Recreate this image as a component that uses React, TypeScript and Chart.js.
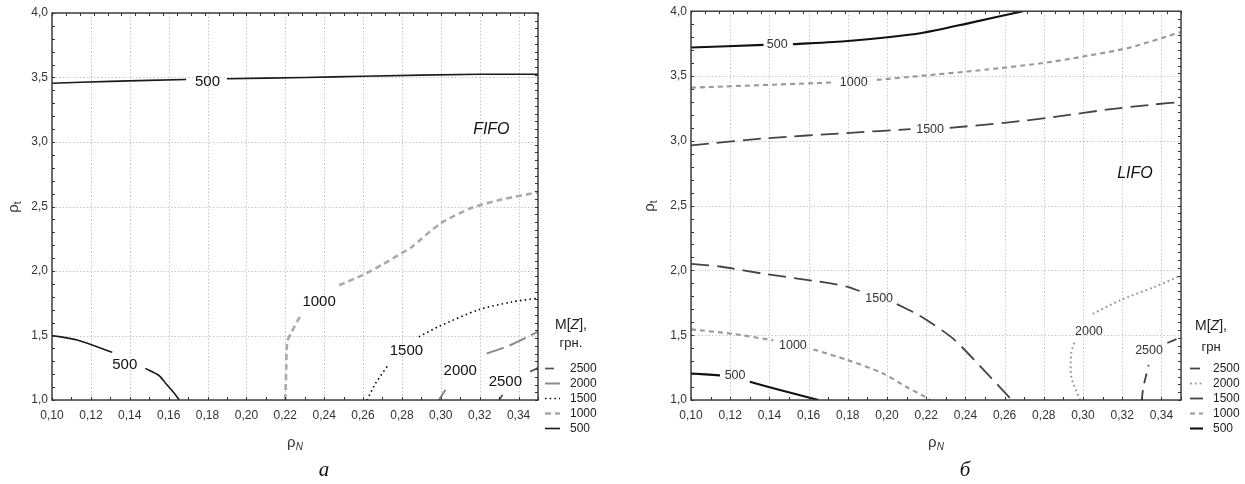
import React, { useEffect, useRef } from "react";
import { Chart, registerables } from "chart.js";
Chart.register(...registerables);

// ---------- axes ----------
const xTicks = [0.10, 0.12, 0.14, 0.16, 0.18, 0.20, 0.22, 0.24, 0.26, 0.28, 0.30, 0.32, 0.34];
const yTicks = [1.0, 1.5, 2.0, 2.5, 3.0, 3.5, 4.0];
const xMin = 0.10, xMax = 0.35, yMin = 1.0, yMax = 4.0;
const legendLevels = [2500, 2000, 1500, 1000, 500];

// ---------- FIFO (а) ----------
const fifo500aX = [0.10, 0.13, 0.169, null, 0.19, 0.23, 0.26, 0.32, 0.35];
const fifo500aY = [3.455, 3.47, 3.485, null, 3.49, 3.50, 3.51, 3.525, 3.525];
const fifo500bX = [0.10, 0.113, 0.131, null, 0.148, 0.155, 0.159, 0.163, 0.1655];
const fifo500bY = [1.50, 1.465, 1.37, null, 1.245, 1.19, 1.12, 1.05, 1.0];
const fifo1000X = [0.220, 0.2205, 0.221, 0.223, 0.228, null, 0.2477, 0.26, 0.27, 0.28, 0.2845, 0.30, 0.316, 0.33, 0.35];
const fifo1000Y = [1.0, 1.25, 1.45, 1.52, 1.66, null, 1.89, 1.97, 2.05, 2.14, 2.18, 2.37, 2.49, 2.55, 2.61];
const fifo1500X = [0.262, 0.2665, 0.2733, null, 0.2887, 0.299, 0.3195, 0.3365, 0.35];
const fifo1500Y = [1.0, 1.13, 1.28, null, 1.49, 1.57, 1.70, 1.76, 1.79];
const fifo2000X = [0.299, 0.3024, null, 0.3236, 0.3365, 0.35];
const fifo2000Y = [1.0, 1.08, null, 1.36, 1.43, 1.53];
const fifo2500X = [0.33, 0.3318, null, 0.346, 0.35];
const fifo2500Y = [1.0, 1.04, null, 1.22, 1.25];
const fifoLabelLevels = [500, 500, 1000, 1500, 2000, 2500];
const fifoLabelX = [0.18, 0.1374, 0.2374, 0.2823, 0.310, 0.3332];
const fifoLabelY = [3.465, 1.27, 1.76, 1.38, 1.225, 1.143];

// ---------- LIFO (б) ----------
const lifo500aX = [0.10, 0.137, null, 0.152, 0.18, 0.217, 0.2424, 0.2694];
const lifo500aY = [3.72, 3.74, null, 3.745, 3.77, 3.83, 3.91, 4.0];
const lifo1000aX = [0.10, 0.1725, null, 0.1948, 0.2168, 0.251, 0.2796, 0.30, 0.324, 0.35];
const lifo1000aY = [3.41, 3.45, null, 3.47, 3.50, 3.55, 3.60, 3.65, 3.72, 3.84];
const lifo1500aX = [0.10, 0.1387, 0.1796, 0.212, null, 0.232, 0.261, 0.2883, 0.312, 0.336, 0.35];
const lifo1500aY = [2.965, 3.02, 3.06, 3.09, null, 3.10, 3.14, 3.19, 3.24, 3.28, 3.30];
const lifo1500bX = [0.10, 0.1148, 0.1387, 0.1625, 0.1796, 0.186, null, 0.205, 0.215, 0.221, 0.234, 0.251, 0.2636];
const lifo1500bY = [2.05, 2.03, 1.97, 1.92, 1.875, 1.84, null, 1.74, 1.665, 1.61, 1.47, 1.205, 1.0];
const lifo1000bX = [0.10, 0.1216, 0.142, null, 0.1625, 0.1796, 0.198, 0.21, 0.2194, 0.222];
const lifo1000bY = [1.545, 1.51, 1.46, null, 1.39, 1.31, 1.205, 1.10, 1.025, 1.0];
const lifo500bX = [0.10, 0.1148, null, 0.130, 0.1454, 0.165];
const lifo500bY = [1.205, 1.19, null, 1.14, 1.077, 1.0];
const lifo2000X = [0.2985, 0.294, 0.294, 0.296, null, 0.305, 0.319, 0.336, 0.35];
const lifo2000Y = [1.0, 1.18, 1.36, 1.46, null, 1.665, 1.77, 1.87, 1.96];
const lifo2500X = [0.33, 0.3308, 0.3335, null, 0.343, 0.35];
const lifo2500Y = [1.0, 1.1, 1.27, null, 1.44, 1.485];
const lifoLabelLevels = [500, 1000, 1500, 1500, 1000, 500, 2000, 2500];
const lifoLabelX = [0.144, 0.183, 0.222, 0.196, 0.152, 0.1225, 0.303, 0.3337];
const lifoLabelY = [3.74, 3.45, 3.09, 1.78, 1.42, 1.19, 1.53, 1.38];

type Style = { color: string; width: number; dash: number[] };

const fifoStyles: Record<number, Style> = {
  2500: { color: "#555", width: 1.7, dash: [9, 7] },
  2000: { color: "#8a8a8a", width: 2, dash: [18, 6] },
  1500: { color: "#000", width: 1.6, dash: [1.5, 3.2] },
  1000: { color: "#aaa", width: 2.6, dash: [6, 4] },
  500: { color: "#1a1a1a", width: 1.6, dash: [] },
};
const lifoStyles: Record<number, Style> = {
  2500: { color: "#444", width: 1.8, dash: [10, 7] },
  2000: { color: "#999", width: 2, dash: [1.8, 3] },
  1500: { color: "#444", width: 1.8, dash: [18, 8] },
  1000: { color: "#999", width: 2.1, dash: [5, 4] },
  500: { color: "#111", width: 2.1, dash: [] },
};

type PanelCfg = {
  canvasWidth: number;
  yAxisWidth: number;
  padRight: number;
  padTop: number;
  contours: { level: number; xs: (number | null)[]; ys: (number | null)[] }[];
  styles: Record<number, Style>;
  labelLevels: number[];
  labelX: number[];
  labelY: number[];
  labelFont: number;
  labelColor: string;
  tag: string;
  tagX: number;
  tagY: number;
  unit: string;
  legSample: [number, number];
  legText: number;
  legTitleX: number;
  legTitleY: [number, number];
  yTitleOff: number;
  sub: string;
};

const fifoCfg: PanelCfg = {
  canvasWidth: 622,
  yAxisWidth: 52,
  padRight: 84,
  padTop: 13,
  contours: [
    { level: 500, xs: fifo500aX, ys: fifo500aY },
    { level: 500, xs: fifo500bX, ys: fifo500bY },
    { level: 1000, xs: fifo1000X, ys: fifo1000Y },
    { level: 1500, xs: fifo1500X, ys: fifo1500Y },
    { level: 2000, xs: fifo2000X, ys: fifo2000Y },
    { level: 2500, xs: fifo2500X, ys: fifo2500Y },
  ],
  styles: fifoStyles,
  labelLevels: fifoLabelLevels,
  labelX: fifoLabelX,
  labelY: fifoLabelY,
  labelFont: 15,
  labelColor: "#111",
  tag: "FIFO",
  tagX: 0.326,
  tagY: 3.10,
  unit: "грн.",
  legSample: [7, 22],
  legText: 32,
  legTitleX: 33,
  legTitleY: [-75, -57],
  yTitleOff: 38,
  sub: "а",
};

const lifoCfg: PanelCfg = {
  canvasWidth: 623,
  yAxisWidth: 69,
  padRight: 64,
  padTop: 9,
  contours: [
    { level: 500, xs: lifo500aX, ys: lifo500aY },
    { level: 1000, xs: lifo1000aX, ys: lifo1000aY },
    { level: 1500, xs: lifo1500aX, ys: lifo1500aY },
    { level: 1500, xs: lifo1500bX, ys: lifo1500bY },
    { level: 1000, xs: lifo1000bX, ys: lifo1000bY },
    { level: 500, xs: lifo500bX, ys: lifo500bY },
    { level: 2000, xs: lifo2000X, ys: lifo2000Y },
    { level: 2500, xs: lifo2500X, ys: lifo2500Y },
  ],
  styles: lifoStyles,
  labelLevels: lifoLabelLevels,
  labelX: lifoLabelX,
  labelY: lifoLabelY,
  labelFont: 12.5,
  labelColor: "#333",
  tag: "LIFO",
  tagX: 0.3265,
  tagY: 2.75,
  unit: "грн",
  legSample: [9, 22],
  legText: 32,
  legTitleX: 30,
  legTitleY: [-74, -53],
  yTitleOff: 41,
  sub: "б",
};

const SANS = "'Liberation Sans', Arial, sans-serif";
const SERIF = "'Liberation Serif', 'Times New Roman', serif";

function makePlugin(cfg: PanelCfg) {
  return {
    id: "panelDeco",
    beforeDatasetsDraw(chart: any) {
      const { ctx, chartArea: a, scales } = chart;
      const xs = scales.x, ys = scales.y;
      ctx.save();
      ctx.strokeStyle = "rgba(0,0,0,0.22)";
      ctx.lineWidth = 1;
      ctx.setLineDash([1.5, 2]);
      xTicks.forEach((v) => {
        const px = Math.round(xs.getPixelForValue(v)) + 0.5;
        ctx.beginPath();
        ctx.moveTo(px, a.top);
        ctx.lineTo(px, a.bottom);
        ctx.stroke();
      });
      yTicks.forEach((v) => {
        const py = Math.round(ys.getPixelForValue(v)) + 0.5;
        ctx.beginPath();
        ctx.moveTo(a.left, py);
        ctx.lineTo(a.right, py);
        ctx.stroke();
      });
      ctx.restore();
    },
    afterDatasetsDraw(chart: any) {
      const { ctx, chartArea: a, scales } = chart;
      const xs = scales.x, ys = scales.y;
      ctx.save();
      // minor inner ticks
      ctx.strokeStyle = "#333";
      ctx.lineWidth = 1;
      ctx.setLineDash([]);
      ctx.beginPath();
      for (let i = 0; i <= 25; i++) {
        const px = Math.round(xs.getPixelForValue(xMin + i * 0.01)) + 0.5;
        ctx.moveTo(px, a.bottom);
        ctx.lineTo(px, a.bottom - 3);
      }
      for (let i = 0; i <= 35; i++) {
        const px = Math.round(xs.getPixelForValue(xMin + (i * (xMax - xMin)) / 35)) + 0.5;
        ctx.moveTo(px, a.top);
        ctx.lineTo(px, a.top + 3);
      }
      for (let i = 0; i <= 30; i++) {
        const py = Math.round(ys.getPixelForValue(yMin + i * 0.1)) + 0.5;
        ctx.moveTo(a.left, py);
        ctx.lineTo(a.left + 3, py);
      }
      for (let i = 0; i <= 50; i++) {
        const py = Math.round(ys.getPixelForValue(yMin + (i * (yMax - yMin)) / 50)) + 0.5;
        ctx.moveTo(a.right, py);
        ctx.lineTo(a.right - 3, py);
      }
      ctx.stroke();
      // frame
      ctx.strokeStyle = "#333";
      ctx.lineWidth = 1.4;
      ctx.strokeRect(a.left, a.top, a.right - a.left, a.bottom - a.top);

      // contour labels
      ctx.fillStyle = cfg.labelColor;
      ctx.font = `${cfg.labelFont}px ${SANS}`;
      ctx.textAlign = "center";
      ctx.textBaseline = "middle";
      cfg.labelLevels.forEach((lv, i) => {
        ctx.fillText(String(lv), xs.getPixelForValue(cfg.labelX[i]), ys.getPixelForValue(cfg.labelY[i]));
      });

      // FIFO / LIFO tag
      ctx.fillStyle = "#111";
      ctx.font = `italic 16px ${SANS}`;
      ctx.fillText(cfg.tag, xs.getPixelForValue(cfg.tagX), ys.getPixelForValue(cfg.tagY));

      // legend
      const tx = a.right + cfg.legTitleX;
      ctx.fillStyle = "#222";
      ctx.font = `14px ${SANS}`;
      const p1 = "M[", p2 = "Z", p3 = "],";
      ctx.textAlign = "left";
      const w1 = ctx.measureText(p1).width;
      const w3 = ctx.measureText(p3).width;
      ctx.font = `italic 14px ${SANS}`;
      const w2 = ctx.measureText(p2).width;
      const sx = tx - (w1 + w2 + w3) / 2;
      const ty1 = a.bottom + cfg.legTitleY[0];
      ctx.font = `14px ${SANS}`;
      ctx.fillText(p1, sx, ty1);
      ctx.font = `italic 14px ${SANS}`;
      ctx.fillText(p2, sx + w1, ty1);
      ctx.font = `14px ${SANS}`;
      ctx.fillText(p3, sx + w1 + w2, ty1);
      ctx.textAlign = "center";
      ctx.font = `13px ${SANS}`;
      ctx.fillText(cfg.unit, tx, a.bottom + cfg.legTitleY[1]);

      ctx.font = `12px ${SANS}`;
      ctx.textAlign = "left";
      legendLevels.forEach((lv, i) => {
        const st = cfg.styles[lv];
        const yy = Math.round(a.bottom - 32 + i * 15) + 0.5;
        ctx.save();
        ctx.strokeStyle = st.color;
        ctx.lineWidth = st.width;
        ctx.setLineDash(st.dash.length ? st.dash.map((d) => (d > 8 ? Math.min(d, 15) : d)) : []);
        ctx.beginPath();
        ctx.moveTo(a.right + cfg.legSample[0], yy);
        ctx.lineTo(a.right + cfg.legSample[1], yy);
        ctx.stroke();
        ctx.restore();
        ctx.fillStyle = "#222";
        ctx.fillText(String(lv), a.right + cfg.legText, yy);
      });

      // axis titles
      const cx = (a.left + a.right) / 2;
      const cy = (a.top + a.bottom) / 2;
      ctx.fillStyle = "#333";
      ctx.font = `15px ${SANS}`;
      const rw = ctx.measureText("ρ").width;
      ctx.font = `italic 10px ${SANS}`;
      const nw = ctx.measureText("N").width;
      const xt0 = cx - (rw + nw) / 2;
      ctx.textAlign = "left";
      ctx.font = `15px ${SANS}`;
      ctx.fillText("ρ", xt0, a.bottom + 43);
      ctx.font = `italic 10px ${SANS}`;
      ctx.fillText("N", xt0 + rw, a.bottom + 47);
      ctx.save();
      ctx.translate(a.left - cfg.yTitleOff, cy);
      ctx.rotate(-Math.PI / 2);
      ctx.font = `15px ${SANS}`;
      const tw = 4;
      ctx.fillText("ρ", -(rw + tw) / 2, 0);
      ctx.font = `10px ${SANS}`;
      ctx.fillText("t", -(rw + tw) / 2 + rw, 4);
      ctx.restore();

      // subtitle
      ctx.textAlign = "center";
      ctx.fillStyle = "#111";
      ctx.font = `italic 21px ${SERIF}`;
      ctx.fillText(cfg.sub, cx + 29, 470);
      ctx.restore();
    },
  };
}

function Panel({ cfg }: { cfg: PanelCfg }) {
  const ref = useRef<HTMLCanvasElement>(null);
  useEffect(() => {
    const datasets = cfg.contours.map((c) => {
      const st = cfg.styles[c.level];
      return {
        label: String(c.level),
        data: c.xs.map((x, i) => (x === null ? { x: null, y: null } : { x, y: c.ys[i] })),
        showLine: true,
        borderColor: st.color,
        borderWidth: st.width,
        borderDash: st.dash,
        pointRadius: 0,
        pointHoverRadius: 0,
        tension: 0.25,
        spanGaps: false,
        fill: false,
      };
    });
    const chart = new Chart(ref.current as HTMLCanvasElement, {
      type: "scatter",
      data: { datasets } as any,
      options: {
        responsive: false,
        animation: false,
        devicePixelRatio: 1,
        events: [],
        layout: {
          autoPadding: false,
          padding: { left: 0, right: cfg.padRight, top: cfg.padTop, bottom: 0 },
        },
        plugins: { legend: { display: false }, tooltip: { enabled: false } },
        scales: {
          x: {
            type: "linear",
            min: xMin,
            max: xMax,
            grid: { display: false, drawTicks: false },
            border: { display: false },
            ticks: {
              padding: 8,
              color: "#333",
              font: { family: SANS, size: 12 },
              autoSkip: false,
              maxRotation: 0,
              callback: (v: any) => Number(v).toFixed(2).replace(".", ","),
            },
            afterBuildTicks: (s: any) => {
              s.ticks = xTicks.map((v) => ({ value: v }));
            },
            afterFit: (s: any) => {
              s.height = 84;
            },
          },
          y: {
            type: "linear",
            min: yMin,
            max: yMax,
            grid: { display: false, drawTicks: false },
            border: { display: false },
            ticks: {
              padding: 4,
              color: "#333",
              font: { family: SANS, size: 12 },
              autoSkip: false,
              callback: (v: any) => Number(v).toFixed(1).replace(".", ","),
            },
            afterBuildTicks: (s: any) => {
              s.ticks = yTicks.map((v) => ({ value: v }));
            },
            afterFit: (s: any) => {
              s.width = cfg.yAxisWidth;
            },
          },
        },
      } as any,
      plugins: [makePlugin(cfg)],
    });
    return () => chart.destroy();
  }, []);
  return (
    <canvas
      ref={ref}
      width={cfg.canvasWidth}
      height={484}
      style={{ display: "block", width: cfg.canvasWidth, height: 484 }}
    />
  );
}

export default function App() {
  return (
    <div
      style={{
        position: "absolute",
        left: 0,
        top: 0,
        width: 1245,
        height: 484,
        display: "flex",
        background: "#fff",
      }}
    >
      <Panel cfg={fifoCfg} />
      <Panel cfg={lifoCfg} />
    </div>
  );
}
